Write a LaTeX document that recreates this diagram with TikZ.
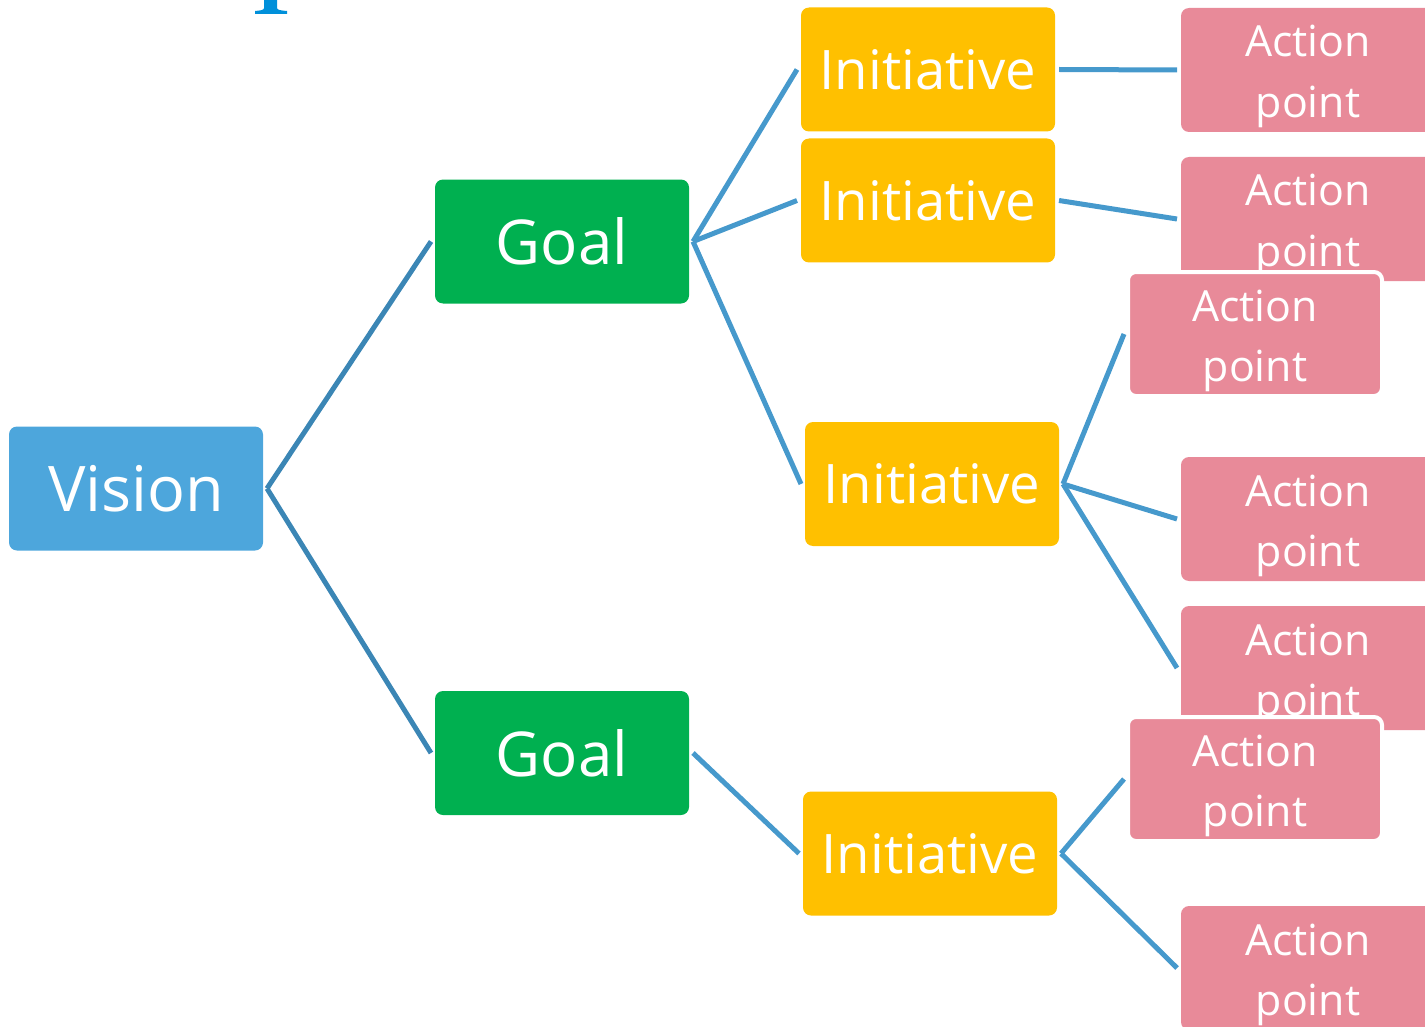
\documentclass[tikz,border=0pt]{standalone}
\usepackage{fontspec}
\setmainfont{Open Sans}
\definecolor{visionblue}{HTML}{4DA6DC}
\definecolor{goalgreen}{HTML}{00B050}
\definecolor{initorange}{HTML}{FFC000}
\definecolor{actionpink}{HTML}{E88A99}
\definecolor{linkdark}{HTML}{3B86B5}
\definecolor{linkblue}{HTML}{4699CC}
\definecolor{titleblue}{HTML}{0090DA}

\begin{document}
\begin{tikzpicture}[x=0.1mm, y=-0.1mm,
    box/.style={rounded corners=0.8mm, minimum width=25.4mm, minimum height=12.4mm,
        inner sep=0pt, outer xsep=0.4mm, text=white, align=center},
    visionbox/.style={box, fill=visionblue, font=\fontsize{17.9}{20}\selectfont},
    goalbox/.style={box, fill=goalgreen, font=\fontsize{17.6}{20}\selectfont},
    initbox/.style={box, fill=initorange, font=\fontsize{15.5}{18}\selectfont},
    actionbox/.style={box, fill=actionpink, font=\fontsize{12.2}{17.1}\selectfont,
        text height=26.8pt, text depth=0pt},
    frontbox/.style={actionbox, draw=white, line width=0.4mm},
    link/.style={line width=0.5mm, linkblue}]
    \useasboundingbox (0,0) rectangle (1425,1027);

    % Cut-off title glyph
    \fill[titleblue] (264,0) -- (264,8) .. controls (264,10) and (261,10.5) .. (255,11)
        -- (255,14) -- (287,14) -- (287,11) .. controls (281,10.5) and (277,10) .. (277,8)
        -- (277,0) -- cycle;

    % Vision and goals
    \node[visionbox] (vision) at (136,488.5) {Vision};
    \node[goalbox] (goal1) at (562,241.5) {Goal};
    \node[goalbox] (goal2) at (562,753) {Goal};

    % Initiatives
    \node[initbox] (init1) at (928,69.5) {Initiative};
    \node[initbox] (init2) at (928,200.5) {Initiative};
    \node[initbox] (init3) at (932,484) {Initiative};
    \node[initbox] (init4) at (930,853.5) {Initiative};

    % Action points
    \node[actionbox] (act1) at (1308,70) {Action\\point};
    \node[actionbox] (act2) at (1308,219) {Action\\point};
    \node[frontbox] (act3) at (1255,334) {Action\\point};
    \node[actionbox] (act4) at (1308,519) {Action\\point};
    \node[actionbox] (act5) at (1308,668) {Action\\point};
    \node[frontbox] (act6) at (1255,779) {Action\\point};
    \node[actionbox] (act7) at (1308,968) {Action\\point};

    % Connectors
    \draw[link, linkdark] (vision.east) -- (goal1.west);
    \draw[link, linkdark] (vision.east) -- (goal2.west);
    \draw[link] (goal1.east) -- (init1.west);
    \draw[link] (goal1.east) -- (init2.west);
    \draw[link] (goal1.east) -- (init3.west);
    \draw[link] (goal2.east) -- (init4.west);
    \draw[link] (init1.east) -- (act1.west);
    \draw[link] (init2.east) -- (act2.west);
    \draw[link] (init3.east) -- (act3.west);
    \draw[link] (init3.east) -- (act4.west);
    \draw[link] (init3.east) -- (act5.west);
    \draw[link] (init4.east) -- (act6.west);
    \draw[link] (init4.east) -- (act7.west);
\end{tikzpicture}
\end{document}
